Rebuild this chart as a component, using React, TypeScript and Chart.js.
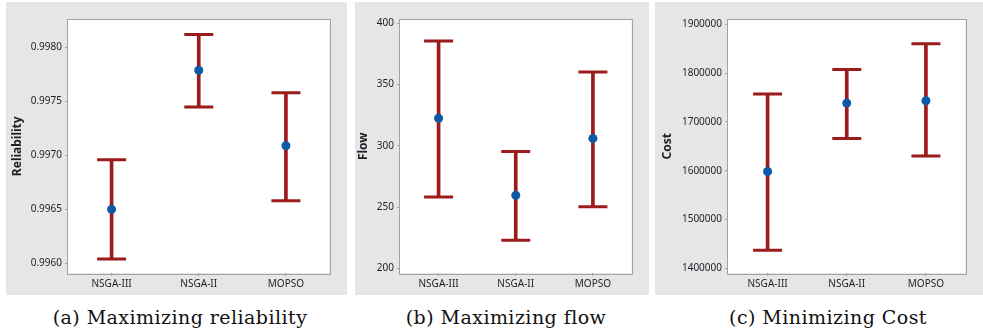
import React, { useEffect, useRef } from "react";
import Chart from "chart.js/auto";

const CATEGORIES = ["NSGA-III", "NSGA-II", "MOPSO"];

const REL_MEAN = [0.9965, 0.99779, 0.99709];
const REL_LOW = [0.99604, 0.99745, 0.99658];
const REL_HIGH = [0.99696, 0.99812, 0.99758];
const REL_TICKS = [0.996, 0.9965, 0.997, 0.9975, 0.998];

const FLOW_MEAN = [322.4, 259.6, 306];
const FLOW_LOW = [258.3, 223, 250.3];
const FLOW_HIGH = [385.4, 295.4, 360.2];
const FLOW_TICKS = [200, 250, 300, 350, 400];

const COST_MEAN = [1598500, 1738700, 1743400];
const COST_LOW = [1437500, 1666400, 1630100];
const COST_HIGH = [1757200, 1807700, 1860400];
const COST_TICKS = [1400000, 1500000, 1600000, 1700000, 1800000, 1900000];

const CAPTIONS = ["(a) Maximizing reliability", "(b) Maximizing flow", "(c) Minimizing Cost"];

const RED = "#9c1b1b";
const BLUE = "#0b5aa6";
const GRAY_BG = "#e6e6e6";
const FRAME = "#a3a3a3";
const TEXT = "#1e1e28";
const FONT = "Noto Sans";

const framePlugin = {
  id: "frame",
  beforeDraw(chart: any) {
    const { ctx, chartArea: a } = chart;
    ctx.save();
    ctx.fillStyle = "#ffffff";
    ctx.fillRect(a.left, a.top, a.right - a.left, a.bottom - a.top);
    ctx.restore();
  },
  afterDraw(chart: any) {
    const { ctx, chartArea: a } = chart;
    ctx.save();
    ctx.strokeStyle = FRAME;
    ctx.lineWidth = 1;
    ctx.strokeRect(Math.round(a.left) - 0.5, Math.round(a.top) - 0.5, Math.round(a.right - a.left) + 1, Math.round(a.bottom - a.top) + 1);
    ctx.restore();
  },
};

type PanelProps = {
  left: number;
  width: number;
  yWidth: number;
  padTop: number;
  padRight: number;
  titlePad: number;
  title: string;
  mean: number[];
  low: number[];
  high: number[];
  ticks: number[];
  min: number;
  max: number;
  fmt: (v: number) => string;
  caption: string;
  captionX: number;
};

function Panel(p: PanelProps) {
  const ref = useRef<HTMLCanvasElement | null>(null);
  useEffect(() => {
    if (!ref.current) return;
    const chart = new Chart(ref.current, {
      type: "bar",
      data: {
        labels: CATEGORIES,
        datasets: [
          {
            type: "line",
            data: p.mean,
            showLine: false,
            pointStyle: "circle",
            pointRadius: 4.5,
            pointBackgroundColor: BLUE,
            pointBorderWidth: 0,
            order: 0,
          } as any,
          {
            type: "line",
            data: p.high,
            showLine: false,
            pointStyle: "line",
            pointRadius: 14.5,
            pointBorderWidth: 3,
            pointBorderColor: RED,
            order: 1,
          } as any,
          {
            type: "line",
            data: p.low,
            showLine: false,
            pointStyle: "line",
            pointRadius: 14.5,
            pointBorderWidth: 3,
            pointBorderColor: RED,
            order: 1,
          } as any,
          {
            type: "bar",
            data: p.low.map((l, i) => [l, p.high[i]]),
            backgroundColor: RED,
            borderWidth: 0,
            barThickness: 3,
            order: 2,
          } as any,
        ],
      },
      options: {
        animation: false,
        responsive: false,
        devicePixelRatio: 1,
        layout: { padding: { left: 0, top: p.padTop, right: p.padRight, bottom: 0 } },
        plugins: { legend: { display: false }, tooltip: { enabled: false } },
        scales: {
          x: {
            type: "category",
            offset: true,
            grid: { display: true, offset: false, drawOnChartArea: false, drawTicks: true, tickLength: 3, color: FRAME },
            border: { display: false },
            ticks: { color: TEXT, font: { family: FONT, size: 10 }, padding: 2, maxRotation: 0 },
            afterFit: (s: any) => {
              s.height = 22;
            },
          },
          y: {
            type: "linear",
            min: p.min,
            max: p.max,
            grid: { display: true, drawOnChartArea: false, drawTicks: true, tickLength: 3, color: FRAME },
            border: { display: false },
            ticks: { color: TEXT, font: { family: FONT, size: 10 }, padding: 3, callback: (v: any) => p.fmt(Number(v)) },
            afterBuildTicks: (s: any) => {
              s.ticks = p.ticks.map((v) => ({ value: v }));
            },
            afterFit: (s: any) => {
              s.width = p.yWidth;
            },
            title: {
              display: true,
              text: p.title,
              color: TEXT,
              font: { family: FONT, size: 12, weight: "bold" },
              padding: { top: p.titlePad, bottom: 0 },
            },
          },
        },
      },
      plugins: [framePlugin],
    } as any);
    return () => chart.destroy();
  }, []);
  return (
    <>
      <div style={{ position: "absolute", left: p.left, top: 2, width: p.width, height: 293, background: GRAY_BG }}>
        <canvas ref={ref} width={p.width} height={293} style={{ display: "block", width: p.width, height: 293 }} />
      </div>
      <div
        style={{
          position: "absolute",
          left: p.captionX - 200,
          width: 400,
          top: 305,
          textAlign: "center",
          fontFamily: "DejaVu Serif",
          fontSize: 19,
          letterSpacing: "0.45px",
          lineHeight: "24px",
          color: "#111",
          whiteSpace: "nowrap",
        }}
      >
        {p.caption}
      </div>
    </>
  );
}

export default function App() {
  return (
    <div style={{ position: "absolute", left: 0, top: 0, width: 983, height: 334, background: "#ffffff", overflow: "hidden" }}>
      <Panel
        left={6}
        width={341}
        yWidth={62}
        padTop={7}
        padRight={13}
        titlePad={4}
        title="Reliability"
        mean={REL_MEAN}
        low={REL_LOW}
        high={REL_HIGH}
        ticks={REL_TICKS}
        min={0.99591}
        max={0.99826}
        fmt={(v) => v.toFixed(4)}
        caption={CAPTIONS[0]}
        captionX={180}
      />
      <Panel
        left={355}
        width={294}
        yWidth={45}
        padTop={11}
        padRight={11}
        titlePad={1}
        title="Flow"
        mean={FLOW_MEAN}
        low={FLOW_LOW}
        high={FLOW_HIGH}
        ticks={FLOW_TICKS}
        min={196.3}
        max={402.9}
        fmt={(v) => String(Math.round(v))}
        caption={CAPTIONS[1]}
        captionX={506}
      />
      <Panel
        left={655}
        width={328}
        yWidth={73}
        padTop={8}
        padRight={4}
        titlePad={5}
        title="Cost"
        mean={COST_MEAN}
        low={COST_LOW}
        high={COST_HIGH}
        ticks={COST_TICKS}
        min={1390700}
        max={1909900}
        fmt={(v) => String(Math.round(v))}
        caption={CAPTIONS[2]}
        captionX={828}
      />
    </div>
  );
}
